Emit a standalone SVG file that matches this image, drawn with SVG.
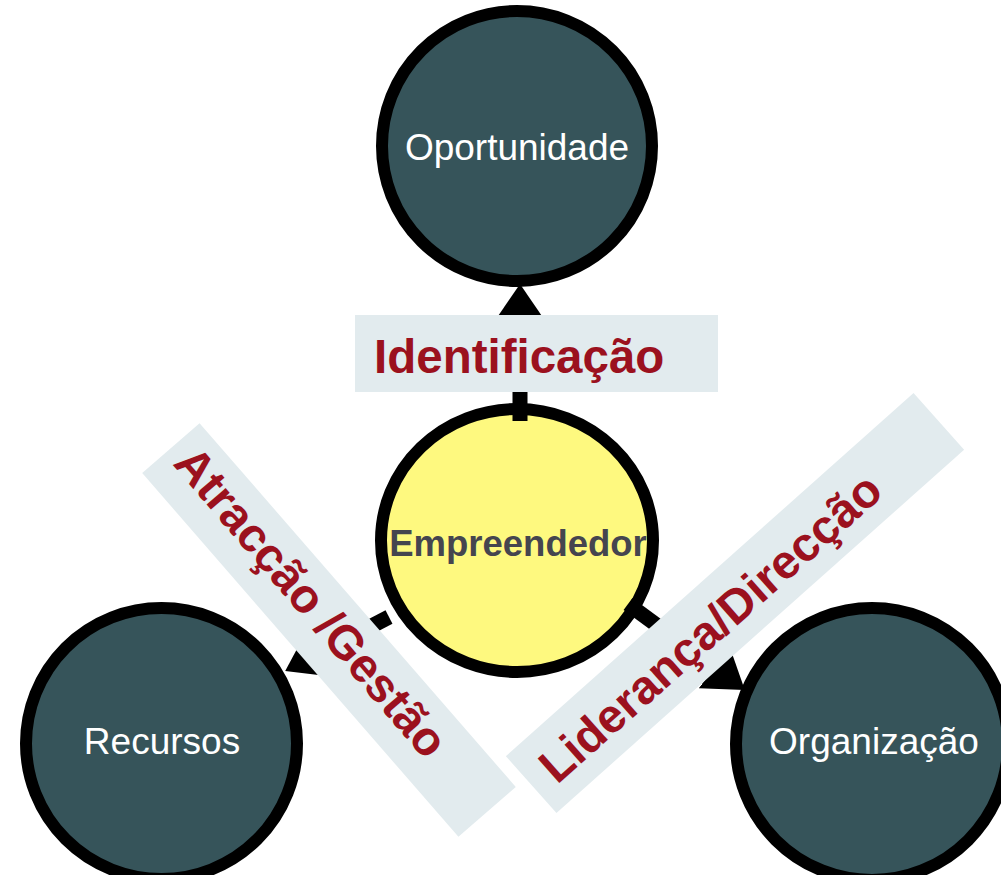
<svg xmlns="http://www.w3.org/2000/svg" width="1001" height="875" viewBox="0 0 1001 875">
<style>
.node{fill:#36545A;stroke:#000;stroke-width:12}
.center{fill:#FEF97F;stroke:#000;stroke-width:12}
.ntext{font-family:"Liberation Sans",Arial,sans-serif;font-size:37px;fill:#fff;text-anchor:middle}
.ctext{font-family:"Liberation Sans",Arial,sans-serif;font-size:36.5px;font-weight:bold;fill:#45454F;text-anchor:middle}
.conn{stroke:#000;stroke-width:15;fill:none;marker-end:url(#arr)}
.box{fill:#E2EBEE}
.ltext{font-family:"Liberation Sans",Arial,sans-serif;font-size:47.5px;font-weight:bold;fill:#9B111E}
</style>
<defs>
<marker id="arr" markerUnits="userSpaceOnUse" markerWidth="38" markerHeight="52" viewBox="0 0 38 52" refX="1" refY="26" orient="auto">
<path d="M0,0 L38,26 L0,52 z" fill="#000"/>
</marker>
</defs>
<g id="node-oportunidade">
<circle class="node" cx="517" cy="146" r="135"/>
<text class="ntext" x="517" y="160">Oportunidade</text>
</g>
<g id="node-recursos">
<circle class="node" cx="161.5" cy="743.5" r="135.5"/>
<text class="ntext" x="162" y="754">Recursos</text>
</g>
<g id="node-organizacao">
<circle class="node" cx="872" cy="744" r="136"/>
<text class="ntext" x="874" y="754">Organização</text>
</g>
<g id="node-empreendedor">
<ellipse class="center" cx="517" cy="540.5" rx="136" ry="131.5"/>
<text class="ctext" x="518" y="556">Empreendedor</text>
</g>
<g id="connectors">
<line class="conn" x1="520" y1="421" x2="520" y2="321"/>
<line class="conn" x1="389" y1="617" x2="318" y2="654"/>
<line class="conn" x1="628" y1="604" x2="715" y2="668"/>
</g>
<g id="label-identificacao">
<rect class="box" x="355" y="315" width="363" height="77"/>
<text class="ltext" x="374" y="373">Identificação</text>
</g>
<g id="label-atraccao">
<rect class="box" x="-241" y="-38" width="482" height="76" transform="translate(329,630) rotate(49)"/>
<text class="ltext" transform="translate(172,464) rotate(49.5)">Atracção /Gestão</text>
</g>
<g id="label-lideranca">
<rect class="box" x="-273" y="-38" width="546" height="76" transform="translate(735,603) rotate(-41.7)"/>
<text class="ltext" transform="translate(557,785) rotate(-41.5)">Liderança/Direcção</text>
</g>
</svg>
